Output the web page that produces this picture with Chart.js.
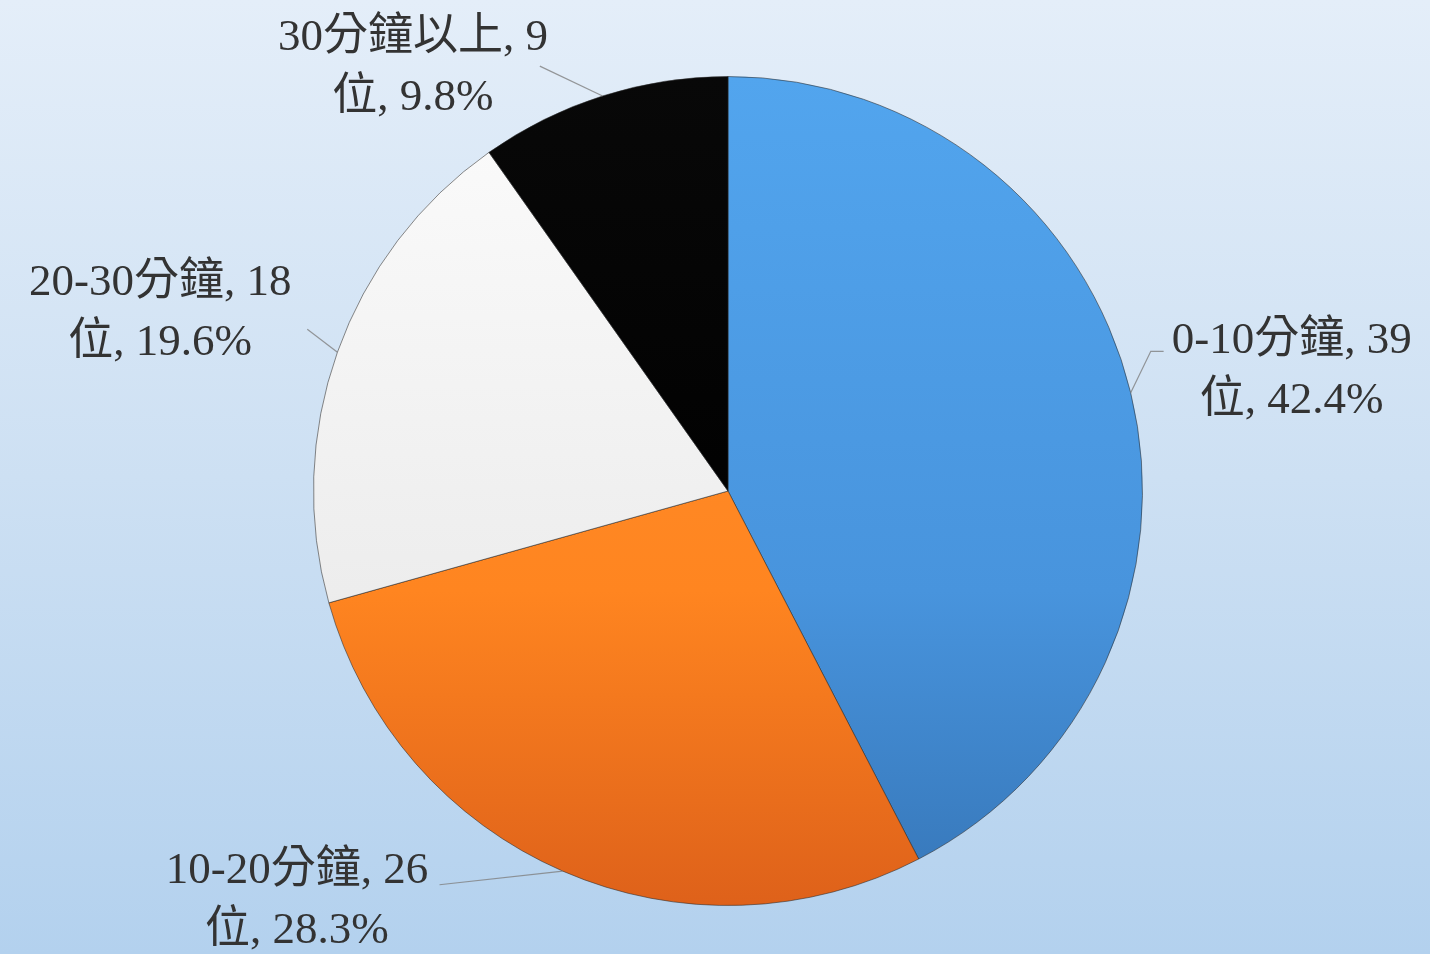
<!DOCTYPE html>
<html>
<head>
<meta charset="utf-8">
<script src="https://cdn.jsdelivr.net/npm/chart.js@4"></script>
<style>
    html, body { margin: 0; padding: 0; }
    body {
        width: 1430px; height: 954px; overflow: hidden;
        background: linear-gradient(to bottom, #e4eef9 0%, #cde0f3 50%, #b3d1ee 100%);
    }
    #wrap { position: relative; width: 1430px; height: 954px; }
</style>
</head>
<body>
<div id="wrap"><canvas id="timePieChart"></canvas></div>
<script>
// Data for Chart
const categories = ['0-10分鐘', '10-20分鐘', '20-30分鐘', '30分鐘以上'];
const peopleCounts = [39, 26, 18, 9];
const unitText = '位';

// slice colours: top, middle, bottom of the gradient over the pie
const sliceTop = ['#52a5ee', '#ff9232', '#fcfcfc', '#080808'];
const sliceMid = ['#4894dd', '#ff8520', '#ededed', '#000000'];
const sliceBottom = ['#3676b8', '#de611a', '#dcdcdc', '#000000'];

// where each label box sits, in pie radius units from the centre,
// and where its leader line stops (elbow optional)
const labelLayout = [
    { cx: 1.36, cy: -0.29, end: [1.051, -0.337], elbow: [1.02, -0.337] },
    { cx: -1.04, cy: 0.99, end: [-0.696, 0.950] },
    { cx: -1.37, cy: -0.43, end: [-1.015, -0.390] },
    { cx: -0.76, cy: -1.02, end: [-0.454, -1.025] }
];

const total = peopleCounts.reduce((a, b) => a + b, 0);

function sliceGradient(context) {
    const chart = context.chart;
    const area = chart.chartArea;
    const i = context.dataIndex;
    if (!area) return sliceMid[i];
    const g = chart.ctx.createLinearGradient(0, area.top, 0, area.bottom);
    g.addColorStop(0, sliceTop[i]);
    g.addColorStop(0.62, sliceMid[i]);
    g.addColorStop(1, sliceBottom[i]);
    return g;
}

// Outside labels with leader lines
const outsideLabels = {
    id: 'outsideLabels',
    afterDatasetsDraw(chart) {
        const ctx = chart.ctx;
        const meta = chart.getDatasetMeta(0);
        ctx.save();
        ctx.font = '45px "Liberation Serif", "Noto Sans CJK TC", serif';
        ctx.textAlign = 'center';
        ctx.textBaseline = 'middle';
        meta.data.forEach((arc, i) => {
            const r = arc.outerRadius;
            const mid = (arc.startAngle + arc.endAngle) / 2;
            const lay = labelLayout[i];
            // leader line
            ctx.strokeStyle = 'rgba(128,128,128,0.8)';
            ctx.lineWidth = 1.2;
            ctx.beginPath();
            ctx.moveTo(arc.x + Math.cos(mid) * r, arc.y + Math.sin(mid) * r);
            if (lay.elbow) ctx.lineTo(arc.x + lay.elbow[0] * r, arc.y + lay.elbow[1] * r);
            ctx.lineTo(arc.x + lay.end[0] * r, arc.y + lay.end[1] * r);
            ctx.stroke();
            // text
            const pct = (peopleCounts[i] / total * 100).toFixed(1);
            const lx = arc.x + lay.cx * r;
            const ly = arc.y + lay.cy * r;
            ctx.fillStyle = '#333333';
            ctx.fillText(categories[i] + ', ' + peopleCounts[i], lx, ly - 30);
            ctx.fillText(unitText + ', ' + pct + '%', lx, ly + 30);
        });
        ctx.restore();
    }
};

const pieCtx = document.getElementById('timePieChart').getContext('2d');
new Chart(pieCtx, {
    type: 'pie',
    data: {
        labels: categories,
        datasets: [{
            data: peopleCounts,
            backgroundColor: sliceGradient,
            borderColor: 'rgba(40,40,40,0.55)',
            borderWidth: 1,
        }]
    },
    options: {
        responsive: true,
        maintainAspectRatio: false,
        animation: false,
        layout: {
            padding: { top: 76, bottom: 48, left: 26, right: 0 }
        },
        plugins: {
            legend: { display: false },
            tooltip: { enabled: false }
        }
    },
    plugins: [outsideLabels]
});
</script>
</body>
</html>
